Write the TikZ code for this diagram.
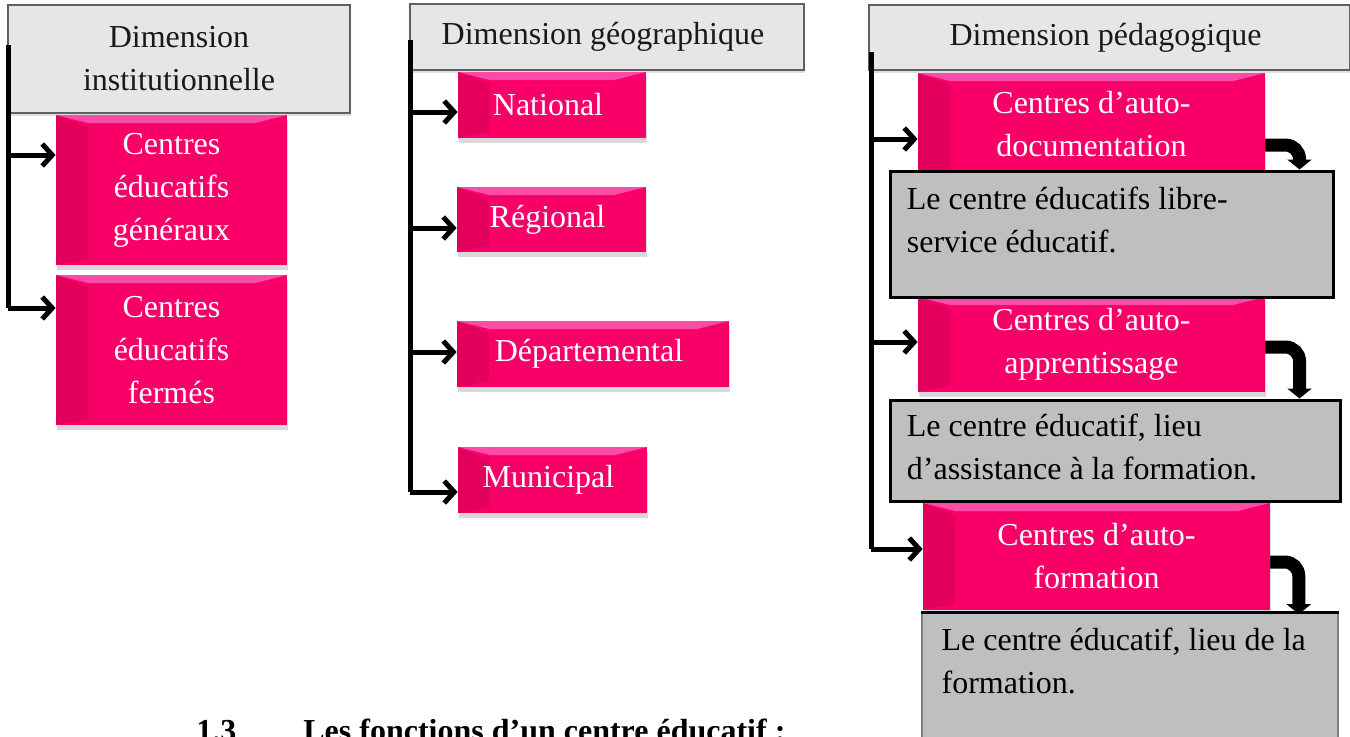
\documentclass[tikz,border=0pt]{standalone}
\usepackage{fontspec}
\setmainfont{Liberation Serif}
\usetikzlibrary{calc,shadows,arrows.meta}
\pgfdeclarelayer{bg}
\pgfsetlayers{bg,main}

\definecolor{pinkmain}{RGB}{249,0,104}
\definecolor{pinklight}{RGB}{255,75,168}
\definecolor{pinkdark}{RGB}{226,0,92}
\definecolor{headgray}{RGB}{230,230,230}
\definecolor{notegray}{RGB}{191,191,191}

\tikzset{
  boxfont/.style={font=\fontsize{16}{21.5}\selectfont},
  dimbox/.style={boxfont, draw=gray!75!black, line width=0.9pt, fill=headgray,
    text=black!90, align=center, inner sep=0pt,
    drop shadow={opacity=0.25,shadow xshift=0.5pt,shadow yshift=-1.5pt}},
  centrebox/.style={boxfont, fill=pinkmain, text=white, align=center, inner sep=0pt,
    drop shadow={opacity=0.3,shadow xshift=0.5pt,shadow yshift=-2.5pt},
    path picture={
      \shade [left color=pinkdark, right color=pinkmain]
        (path picture bounding box.north west) -- ++(16pt,-6pt)
        |- ([xshift=16pt,yshift=3pt]path picture bounding box.south west)
        -- (path picture bounding box.south west) -- cycle;
      \fill [pinklight]
        (path picture bounding box.north west) -- (path picture bounding box.north east)
        -- ++(-16pt,-4pt) -- ([xshift=16pt,yshift=-4pt]path picture bounding box.north west) -- cycle;
    }},
  notebox/.style={draw=black, line width=1.5pt, fill=notegray, inner sep=0pt},
  notetext/.style={boxfont, align=left, inner sep=0pt, anchor=north west},
  trunk/.style={line width=2.5pt},
  link/.style={line width=2.5pt, -{Straight Barb[length=5pt,width=11pt]}},
  bentlink/.style={line width=6.5pt, rounded corners=7pt, -{Triangle[length=5pt,width=12pt]}}
}

\begin{document}
\begin{tikzpicture}[x=0.5pt, y=-0.5pt]
    \useasboundingbox (0,0) rectangle (1350,736);
    \clip (0,0) rectangle (1350,736);

    % institutionnelle
    \node [dimbox, minimum width=171pt, minimum height=54pt] (hInst) at (179,59) { Dimension\\institutionnelle };
    \node [centrebox, minimum width=115.5pt, minimum height=75pt] (cGen) at (171.5,190) { Centres\\éducatifs\\généraux };
    \node [centrebox, minimum width=115.5pt, minimum height=75pt] (cFer) at (171.5,350) { Centres\\éducatifs\\fermés };

    % géographique
    \node [dimbox, minimum width=197pt, minimum height=33pt] (hGeo) at (607,37) { Dimension géographique };
    \node [centrebox, minimum width=94pt, minimum height=33pt] (nat) at (552,105) { National };
    \node [centrebox, minimum width=94.5pt, minimum height=32.5pt] (reg) at (551.5,219.5) { Régional };
    \node [centrebox, minimum width=136pt, minimum height=33pt] (dep) at (593,354) { Départemental };
    \node [centrebox, minimum width=94.5pt, minimum height=33pt] (mun) at (552.5,480) { Municipal };

    % pédagogique
    \node [dimbox, minimum width=240.5pt, minimum height=32.5pt] (hPed) at (1109.5,37.5) { Dimension pédagogique };
    \node [centrebox, minimum width=173.5pt, minimum height=51pt] (aDoc) at (1091.5,124) { Centres d’auto-\\documentation };
    \node [centrebox, minimum width=173.5pt, minimum height=47.5pt] (aApp) at (1091.5,344.5) { Centres d’auto-\\apprentissage };
    \node [centrebox, minimum width=173.5pt, minimum height=53.5pt] (aFor) at (1096.5,556.5) { Centres d’auto-\\formation };

    \node [notebox, minimum width=221.5pt, minimum height=63pt] (gDoc) at (1111.5,234) {};
    \node [notetext] (gDocTxt) at ($(gDoc.north west)+(18,17)$) { Le centre éducatifs libre-\\service éducatif. };
    \node [notebox, minimum width=225pt, minimum height=50.5pt] (gApp) at (1115,450.5) {};
    \node [notetext] (gAppTxt) at ($(gApp.north west)+(18,15)$) { Le centre éducatif, lieu\\d’assistance à la formation. };
    \node [notebox, draw=gray, line width=0.8pt, minimum width=208pt, minimum height=73pt] (gFor) at (1130,686) {};
    \draw [line width=1.5pt] (gFor.north west) -- (gFor.north east);
    \node [notetext] (gForTxt) at ($(gFor.north west)+(20,15)$) { Le centre éducatif, lieu de la\\formation. };

    \begin{pgfonlayer}{bg}    % bent arrows under the boxes
      \draw [bentlink] ($(aDoc.east)+(-4,21)$) -| ($(gDoc.north east)+(-35,0)$);
      \draw [bentlink] ($(aApp.east)+(-4,2.5)$) -| ($(gApp.north east)+(-42,0)$);
      \draw [bentlink] ($(aFor.east)+(-4,5.5)$) -| ($(gFor.north east)+(-40,2)$);
    \end{pgfonlayer}

    % arrow ends
    \coordinate (pGen) at ($(cGen.west)+(0,-35)$);
    \coordinate (pFer) at ($(cFer.west)+(0,-42)$);
    \coordinate (pNat) at ($(nat.west)+(0,7)$);
    \coordinate (pReg) at ($(reg.west)+(0,8.5)$);
    \coordinate (pDep) at ($(dep.west)+(0,-2)$);
    \coordinate (pMun) at ($(mun.west)+(0,12)$);
    \coordinate (pDoc) at ($(aDoc.west)+(0,15)$);
    \coordinate (pApp) at ($(aApp.west)+(0,-2.5)$);
    \coordinate (pFor) at ($(aFor.west)+(0,-7.5)$);

    \coordinate (tInst) at (8,45);
    \coordinate (tGeo) at (410,40);
    \coordinate (tPed) at (871,52);

    \draw [trunk] (tInst) -- (tInst |- pFer);
    \draw [link] (tInst |- pGen) -- (pGen);
    \draw [link] (tInst |- pFer) -- (pFer);

    \draw [trunk] (tGeo) -- (tGeo |- pMun);
    \draw [link] (tGeo |- pNat) -- (pNat);
    \draw [link] (tGeo |- pReg) -- (pReg);
    \draw [link] (tGeo |- pDep) -- (pDep);
    \draw [link] (tGeo |- pMun) -- (pMun);

    \draw [trunk] (tPed) -- (tPed |- pFor);
    \draw [link] (tPed |- pDoc) -- (pDoc);
    \draw [link] (tPed |- pApp) -- (pApp);
    \draw [link] (tPed |- pFor) -- (pFor);

    % heading cut by the page edge
    \node [font=\bfseries\fontsize{16}{20}\selectfont, anchor=base west, inner sep=0pt] (secNum) at (196,741) {1.3};
    \node [font=\bfseries\fontsize{16}{20}\selectfont, anchor=base west, inner sep=0pt] (secTitle) at (303,741) {Les fonctions d’un centre éducatif :};
  \end{tikzpicture}
\end{document}
